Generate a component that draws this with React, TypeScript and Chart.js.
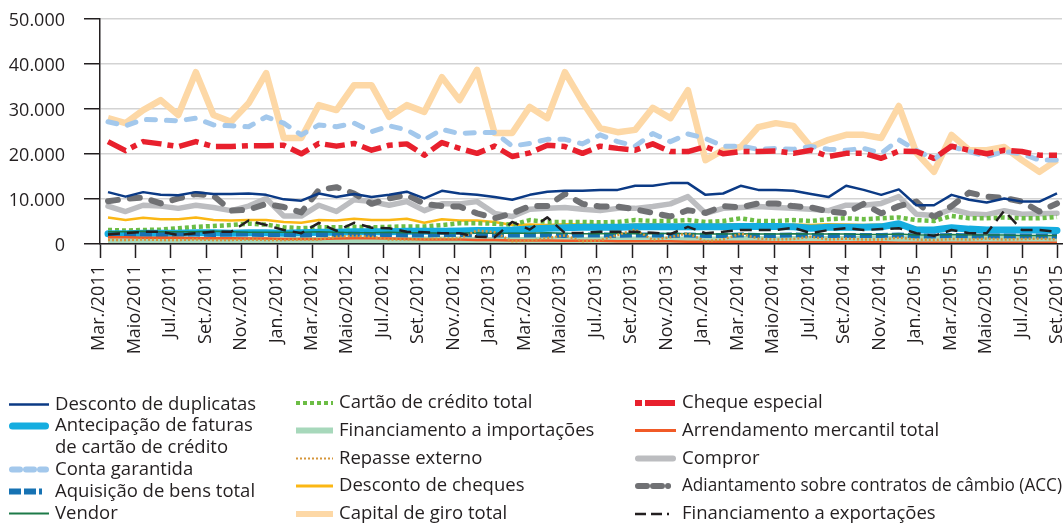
import React, { useEffect, useRef } from "react";
import { Chart, registerables } from "chart.js";

Chart.register(...registerables);

// ---------- categories ----------
const months = [
  "Mar./2011", "Abr./2011", "Maio/2011", "Jun./2011", "Jul./2011", "Ago./2011", "Set./2011", "Out./2011", "Nov./2011", "Dez./2011",
  "Jan./2012", "Fev./2012", "Mar./2012", "Abr./2012", "Maio/2012", "Jun./2012", "Jul./2012", "Ago./2012", "Set./2012", "Out./2012", "Nov./2012", "Dez./2012",
  "Jan./2013", "Fev./2013", "Mar./2013", "Abr./2013", "Maio/2013", "Jun./2013", "Jul./2013", "Ago./2013", "Set./2013", "Out./2013", "Nov./2013", "Dez./2013",
  "Jan./2014", "Fev./2014", "Mar./2014", "Abr./2014", "Maio/2014", "Jun./2014", "Jul./2014", "Ago./2014", "Set./2014", "Out./2014", "Nov./2014", "Dez./2014",
  "Jan./2015", "Fev./2015", "Mar./2015", "Abr./2015", "Maio/2015", "Jun./2015", "Jul./2015", "Ago./2015", "Set./2015",
];

const tickLabels = [
  "Mar./2011", "Maio/2011", "Jul./2011", "Set./2011", "Nov./2011",
  "Jan./2012", "Mar./2012", "Maio/2012", "Jul./2012", "Set./2012", "Nov./2012",
  "Jan./2013", "Mar./2013", "Maio/2013", "Jul./2013", "Set./2013", "Nov./2013",
  "Jan./2014", "Mar./2014", "Maio/2014", "Jul./2014", "Set./2014", "Nov./2014",
  "Jan./2015", "Mar./2015", "Maio/2015", "Jul./2015", "Set./2015",
];

const yTicks = [0, 10000, 20000, 30000, 40000, 50000];

// ---------- series values (R$ milhões) ----------
const descontoDuplicatas = [
  11500, 10500, 11500, 10900, 10800, 11500, 11100, 11100, 11200, 10900,
  9900, 9600, 11200, 10400, 11100, 10400, 10900, 11600, 10100, 11800, 11200, 10900,
  10400, 9800, 10900, 11600, 11800, 11800, 12000, 12000, 12900, 12900, 13500, 13500,
  10900, 11200, 12900, 12000, 12000, 11800, 11100, 10400, 12900, 12000, 10900, 12100,
  8600, 8600, 10900, 9800, 9200, 10100, 9400, 9400, 11200,
];
const antecipacaoFaturas = [
  2300, 2300, 2400, 2400, 2400, 2500, 2500, 2400, 2500, 2500,
  2400, 2500, 2600, 2600, 2700, 2700, 2700, 2800, 2800, 2800, 2900, 3000,
  3000, 3100, 3300, 3500, 3600, 3700, 3700, 3700, 3800, 3800, 3800, 3800,
  3800, 3800, 3900, 3900, 3900, 3800, 3500, 3700, 3700, 3700, 3800, 4500,
  3100, 3100, 3600, 3300, 3100, 3100, 3100, 3100, 3000,
];
const contaGarantida = [
  27100, 26200, 27600, 27500, 27300, 27900, 26400, 26200, 26000, 28200,
  26800, 24200, 26400, 26000, 26800, 24900, 26200, 25300, 23100, 25400, 24500, 24700,
  24700, 21700, 22300, 23200, 23200, 22200, 24200, 22700, 21700, 24500, 22700, 24400,
  23400, 21700, 21700, 21000, 21200, 21000, 21600, 21000, 20800, 21200, 20100, 23100,
  20800, 18800, 21600, 20500, 19400, 20500, 20000, 18600, 18600,
];
const aquisicaoBens = [
  2200, 2200, 2200, 2100, 2200, 2200, 2100, 2200, 2200, 2100,
  2100, 2000, 2100, 2100, 2200, 2100, 2100, 2000, 2000, 2100, 2100, 2000,
  2000, 2000, 2000, 2000, 1900, 2000, 2000, 1900, 2000, 2000, 1900, 2000,
  1900, 1900, 2000, 1900, 1900, 2000, 1900, 1900, 1900, 1900, 1900, 2000,
  1800, 1800, 1900, 1800, 1800, 1800, 1800, 1800, 1700,
];
const vendor = [
  2700, 2700, 2800, 2700, 2700, 2700, 2800, 2700, 2600, 2600,
  2600, 2600, 2700, 2600, 2500, 2500, 2600, 2500, 2500, 2400, 2400, 2500,
  2400, 2400, 2400, 2500, 2400, 2300, 2300, 2400, 2300, 2300, 2400, 2300,
  2200, 2200, 2300, 2200, 2200, 2300, 2200, 2200, 2200, 2100, 2100, 2200,
  2000, 2000, 2100, 2000, 2000, 2000, 1900, 1900, 1900,
];
const cartaoCredito = [
  3100, 3000, 3100, 3200, 3500, 3800, 4000, 4200, 4500, 4300,
  3700, 3500, 3700, 3700, 3800, 3700, 3800, 3900, 3900, 4200, 4600, 4600,
  4500, 4300, 5300, 4900, 4900, 4900, 4800, 4900, 5300, 5100, 5100, 5300,
  4900, 5100, 5700, 5100, 5100, 5300, 5100, 5500, 5700, 5500, 5700, 5900,
  5300, 5100, 6200, 5700, 5700, 5900, 5700, 5700, 6000,
];
const financImportacoes = [
  700, 700, 800, 700, 700, 800, 700, 700, 800, 700,
  700, 800, 800, 800, 900, 900, 800, 800, 900, 900, 900, 800,
  800, 800, 800, 900, 900, 800, 900, 900, 900, 900, 900, 900,
  900, 900, 1000, 1000, 900, 1000, 1000, 1000, 1000, 1000, 1000, 1100,
  1000, 1000, 1100, 1000, 1000, 1000, 1000, 1000, 1000,
];
const repasseExterno = [
  900, 900, 1000, 900, 900, 1000, 900, 900, 1000, 900,
  900, 1000, 1000, 1600, 1800, 1600, 1000, 1000, 1100, 1200, 1200, 3000,
  2600, 600, 700, 1300, 1900, 600, 800, 2000, 3200, 900, 1500, 2400,
  600, 1000, 2300, 1200, 1000, 1100, 1600, 1000, 1200, 1000, 1000, 1400,
  1000, 900, 1100, 1000, 1200, 1000, 1100, 1200, 1000,
];
const descontoCheques = [
  5900, 5300, 5800, 5500, 5500, 5900, 5300, 5200, 5300, 5300,
  4900, 4700, 5300, 5200, 5600, 5300, 5300, 5600, 4700, 5500, 5200, 5200,
  4900, 4200, 4300, 4200, 4400, 4300, 4200, 4100, 4300, 4400, 4200, 4300,
  4200, 4300, 4400, 4200, 4100, 4300, 4200, 4400, 4300, 4200, 4300, 4500,
  3600, 3400, 3700, 3500, 3400, 3500, 3400, 3300, 3400,
];
const capitalGiro = [
  27900, 26800, 29700, 31900, 28600, 38100, 28600, 27100, 31200, 37900,
  23500, 23500, 30800, 29700, 35200, 35200, 28200, 30800, 29300, 37000, 31900, 38600,
  24600, 24600, 30400, 27900, 38100, 31500, 25700, 24800, 25300, 30200, 27900, 34100,
  18600, 20800, 21500, 25900, 26800, 26200, 21500, 23100, 24200, 24200, 23500, 30600,
  20200, 16000, 24200, 20800, 20800, 21500, 18600, 16000, 18600,
];
const chequeEspecial = [
  22700, 20700, 22700, 22200, 21600, 22700, 21600, 21600, 21800, 21800,
  21900, 20000, 22300, 21700, 22300, 20800, 21900, 22200, 19700, 22500, 21200, 20100,
  21700, 19400, 20200, 21900, 21600, 20100, 21700, 21200, 20800, 22200, 20500, 20500,
  21600, 20000, 20500, 20500, 20600, 20100, 20800, 19400, 20100, 20100, 19000, 20600,
  20500, 19000, 21700, 20800, 20000, 20800, 20500, 19700, 19700,
];
const arrendamento = [
  1500, 1500, 1400, 1400, 1400, 1300, 1300, 1300, 1200, 1200,
  1100, 1100, 1100, 1200, 1300, 1300, 1200, 1100, 1000, 1000, 1000, 900,
  900, 800, 800, 800, 700, 700, 700, 600, 600, 600, 600, 500,
  500, 500, 500, 500, 400, 400, 400, 400, 400, 400, 400, 300,
  300, 300, 300, 300, 300, 300, 300, 300, 300,
];
const compror = [
  8400, 7200, 8600, 8400, 7900, 8600, 8100, 7400, 8400, 10100,
  6200, 6200, 8600, 7200, 9800, 9400, 8600, 9400, 7400, 8900, 8900, 9400,
  6800, 6100, 7700, 7900, 8100, 7700, 7400, 7900, 7900, 8300, 8900, 10500,
  6800, 7900, 8100, 8300, 8100, 7900, 7700, 7400, 8600, 8600, 9000, 10500,
  6600, 6300, 7700, 6700, 6500, 7400, 6600, 6700, 6800,
];
const adiantamentoACC = [
  9500, 10000, 10300, 9000, 10100, 11100, 10700, 7400, 7600, 8900,
  8200, 7000, 12000, 12600, 11200, 8900, 10100, 10900, 8900, 8400, 8300, 6800,
  5700, 6800, 8400, 8400, 11100, 8900, 8300, 8300, 7700, 6900, 6100, 7500,
  6900, 8400, 8100, 9000, 9000, 8400, 8100, 7200, 6800, 8900, 6800, 8400,
  9400, 5900, 8400, 11400, 10500, 10200, 9400, 7200, 9000,
];
const financExportacoes = [
  2100, 2400, 2700, 2700, 2000, 2400, 2700, 2700, 5200, 4200,
  3100, 2400, 4700, 2900, 4700, 3600, 3500, 2700, 2600, 2400, 2400, 1600,
  1500, 4900, 3200, 5900, 2400, 2500, 2700, 2700, 2700, 2500, 2200, 3800,
  2400, 2700, 3100, 3100, 3100, 3600, 2400, 3100, 3500, 3100, 3300, 3500,
  2400, 1800, 3100, 2400, 2400, 7400, 3100, 3100, 2700,
];

// ---------- layout constants ----------
const W = 1064;
const H = 523;
const FONT = "'Open Sans', 'DejaVu Sans', sans-serif";
const LEGEND_FONT_SIZE = 18.5;
const TEXT = "#231f20";
const AXIS = "#231f20";
const X_MIN = -0.455;
const X_MAX = 54.285;
const TICK_START = -0.455;
const TICK_STEP = 2.0189;

type Series = {
  label: string;
  lines: string[];
  data: number[];
  color: string;
  width: number;
  dash?: number[];
  cap?: CanvasLineCap;
  z: number;
  legendDash?: number[];
  legendWidth?: number;
};

const series: Series[] = [
  { label: "Desconto de duplicatas", lines: ["Desconto de duplicatas"], data: descontoDuplicatas, color: "#0b3a85", width: 2.5, z: 5 },
  { label: "Antecipação de faturas de cartão de crédito", lines: ["Antecipação de faturas", "de cartão de crédito"], data: antecipacaoFaturas, color: "#15ade0", width: 7, cap: "round", z: 8, legendWidth: 7 },
  { label: "Conta garantida", lines: ["Conta garantida"], data: contaGarantida, color: "#a3c8ec", width: 5, dash: [9, 11], cap: "round", z: 1, legendDash: [8, 6], legendWidth: 6 },
  { label: "Aquisição de bens total", lines: ["Aquisição de bens total"], data: aquisicaoBens, color: "#1672b3", width: 5, dash: [12, 4], z: 10, legendDash: [12, 3, 12, 3, 3, 20], legendWidth: 6 },
  { label: "Vendor", lines: ["Vendor"], data: vendor, color: "#1d7a48", width: 1.5, z: 11, legendWidth: 2 },
  { label: "Cartão de crédito total", lines: ["Cartão de crédito total"], data: cartaoCredito, color: "#6cbd45", width: 4.5, dash: [4, 3], z: 7, legendWidth: 4 },
  { label: "Financiamento a importações", lines: ["Financiamento a importações"], data: financImportacoes, color: "#a7d8bb", width: 7, z: 9, legendWidth: 6 },
  { label: "Repasse externo", lines: ["Repasse externo"], data: repasseExterno, color: "#d6963a", width: 2.5, dash: [2, 2], z: 13, legendWidth: 2 },
  { label: "Desconto de cheques", lines: ["Desconto de cheques"], data: descontoCheques, color: "#fbb714", width: 2.5, z: 6, legendWidth: 3 },
  { label: "Capital de giro total", lines: ["Capital de giro total"], data: capitalGiro, color: "#fdd8a6", width: 6.5, z: 0, legendWidth: 6 },
  { label: "Cheque especial", lines: ["Cheque especial"], data: chequeEspecial, color: "#e8202d", width: 5.5, dash: [20, 6, 6, 6], z: 2, legendDash: [7, 3, 30, 20], legendWidth: 6 },
  { label: "Arrendamento mercantil total", lines: ["Arrendamento mercantil total"], data: arrendamento, color: "#f15a27", width: 2.5, z: 12, legendWidth: 3 },
  { label: "Compror", lines: ["Compror"], data: compror, color: "#bcbdc0", width: 5.5, cap: "round", z: 3, legendWidth: 6 },
  { label: "Adiantamento sobre contratos de câmbio (ACC)", lines: ["Adiantamento sobre contratos de câmbio (ACC)"], data: adiantamentoACC, color: "#707174", width: 6, dash: [10, 12], cap: "round", z: 4, legendDash: [9, 6, 9, 6, 0.1, 30], legendWidth: 6 },
  { label: "Financiamento a exportações", lines: ["Financiamento a exportações"], data: financExportacoes, color: "#231f20", width: 2.5, dash: [12, 7], z: 14, legendDash: [11, 5, 11, 5, 2, 30], legendWidth: 2.5 },
];

// legend columns: labels, symbol span, text x, row centres
const legendColumns = [
  {
    labels: ["Desconto de duplicatas", "Antecipação de faturas de cartão de crédito", "Conta garantida", "Aquisição de bens total", "Vendor"],
    x0: 9, x1: 49, tx: 55, rows: [404.5, 426, 469.5, 491.5, 513.5], lineStep: 21.5,
  },
  {
    labels: ["Cartão de crédito total", "Financiamento a importações", "Repasse externo", "Desconto de cheques", "Capital de giro total"],
    x0: 296, x1: 333, tx: 339, rows: [403, 430.5, 458.5, 486, 514], lineStep: 21.5,
  },
  {
    labels: ["Cheque especial", "Arrendamento mercantil total", "Compror", "Adiantamento sobre contratos de câmbio (ACC)", "Financiamento a exportações"],
    x0: 635, x1: 676, tx: 682, rows: [403, 430.5, 458.5, 486, 514], lineStep: 21.5,
  },
];

function formatThousands(v: number): string {
  return String(Math.round(v)).replace(/\B(?=(\d{3})+(?!\d))/g, ".");
}

const legendPlugin = {
  id: "bottomLegend",
  afterDraw(chart: any) {
    const ctx: CanvasRenderingContext2D = chart.ctx;
    ctx.save();
    legendColumns.forEach((col) => {
      col.labels.forEach((label, r) => {
        const s = series.find((d) => d.label === label);
        if (!s) return;
        const y = col.rows[r];
        const lw = s.legendWidth ?? s.width;
        const cap = s.cap ?? "butt";
        const inset = cap === "round" ? lw / 2 : 0;
        ctx.save();
        ctx.strokeStyle = s.color;
        ctx.lineWidth = lw;
        ctx.lineCap = cap;
        ctx.setLineDash(s.legendDash ?? s.dash ?? []);
        ctx.beginPath();
        ctx.moveTo(col.x0 + inset, y);
        ctx.lineTo(col.x1 - inset, y);
        ctx.stroke();
        ctx.restore();
        ctx.fillStyle = TEXT;
        ctx.font = `${LEGEND_FONT_SIZE}px ${FONT}`;
        ctx.textBaseline = "middle";
        ctx.textAlign = "left";
        const maxW = W - col.tx - 2;
        s.lines.forEach((t, j) => ctx.fillText(t, col.tx, y + j * col.lineStep, maxW));
      });
    });
    ctx.restore();
  },
};

export default function App() {
  const ref = useRef<HTMLCanvasElement>(null);

  useEffect(() => {
    if (!ref.current) return;
    Chart.defaults.font.family = FONT;
    Chart.defaults.font.size = 18;
    Chart.defaults.color = TEXT;

    const datasets = series.map((s) => ({
      label: s.label,
      data: s.data.map((v, i) => ({ x: i, y: v })),
      borderColor: s.color,
      backgroundColor: s.color,
      borderWidth: s.width,
      borderDash: s.dash ?? [],
      borderCapStyle: s.cap ?? "butt",
      borderJoinStyle: "round" as CanvasLineJoin,
      pointRadius: 0,
      pointHoverRadius: 0,
      tension: 0,
      fill: false,
      order: 100 - s.z,
    }));

    const chart = new Chart(ref.current, {
      type: "line",
      data: { labels: months.map((_, i) => i), datasets },
      plugins: [legendPlugin],
      options: {
        animation: false,
        responsive: false,
        devicePixelRatio: 1,
        events: [],
        layout: { padding: { top: 18.5, right: 2, bottom: 150, left: 0 } },
        plugins: { legend: { display: false }, tooltip: { enabled: false }, title: { display: false } },
        scales: {
          x: {
            type: "linear",
            min: X_MIN,
            max: X_MAX,
            afterBuildTicks: (scale: any) => {
              scale.ticks = tickLabels.map((_, k) => ({ value: TICK_START + k * TICK_STEP }));
            },
            afterFit: (scale: any) => {
              scale.height = 129;
              scale.paddingLeft = 0;
              scale.paddingRight = 0;
            },
            ticks: {
              autoSkip: false,
              maxRotation: 90,
              minRotation: 90,
              padding: 7,
              labelOffset: -1,
              color: TEXT,
              font: { size: 18, family: FONT },
              callback: (_v: any, index: number) => tickLabels[index] ?? "",
            },
            grid: {
              drawOnChartArea: false,
              drawTicks: true,
              tickLength: 14,
              tickColor: AXIS,
              tickWidth: 1.5,
              z: 1,
            },
            border: { display: true, color: AXIS, width: 1.5, z: 1 },
          },
          y: {
            type: "linear",
            min: 0,
            max: 50000,
            afterBuildTicks: (scale: any) => {
              scale.ticks = yTicks.map((v) => ({ value: v }));
            },
            afterFit: (scale: any) => {
              scale.width = 100;
              scale.paddingTop = 0;
              scale.paddingBottom = 0;
            },
            ticks: {
              padding: 19,
              labelOffset: 2,
              color: TEXT,
              font: { size: 18, family: FONT },
              callback: (v: any) => formatThousands(Number(v)),
            },
            grid: {
              color: "#d3d3d3",
              lineWidth: 1.5,
              drawTicks: true,
              tickLength: 16,
              tickColor: AXIS,
              tickWidth: 1.5,
            },
            border: { display: true, color: AXIS, width: 1.5 },
          },
        },
      } as any,
    });
    return () => chart.destroy();
  }, []);

  return (
    <div style={{ position: "absolute", left: 0, top: 0, width: W, height: H, background: "#ffffff" }}>
      <canvas ref={ref} width={W} height={H} style={{ display: "block", width: W, height: H }} />
    </div>
  );
}
